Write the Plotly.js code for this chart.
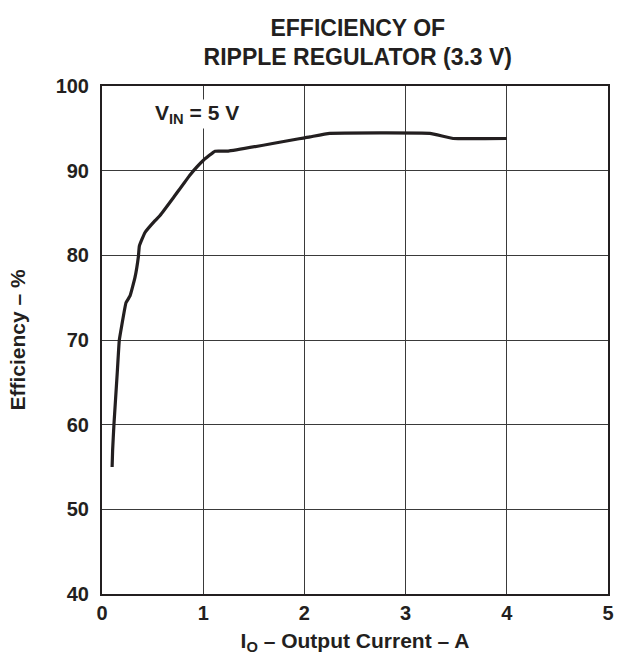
<!DOCTYPE html>
<html>
<head>
<meta charset="utf-8">
<script src="https://cdn.plot.ly/plotly-3.0.1.min.js"></script>
<style>html,body{margin:0;padding:0;background:#fff;}#chart{width:618px;height:658px;}</style>
</head>
<body>
<div id="chart"></div>
<script>
const currentA = [0.10, 0.105, 0.118, 0.15, 0.171, 0.195, 0.237, 0.277, 0.326, 0.36, 0.369, 0.425, 0.524, 0.573, 0.705, 0.87, 1.0, 1.117, 1.248, 2.055, 2.25, 3.24, 3.47, 4.0];
const efficiency = [55.0, 57.0, 60.0, 66.0, 70.0, 71.7, 74.4, 75.2, 77.4, 79.9, 81.1, 82.7, 84.1, 84.7, 86.8, 89.5, 91.2, 92.3, 92.3, 94.0, 94.4, 94.4, 93.8, 93.8];
const xTicks = [0, 1, 2, 3, 4, 5];
const yTicks = [40, 50, 60, 70, 80, 90, 100];
const annotationText = 'V<sub>IN</sub> = 5 V';

const fontFam = 'Liberation Sans, Arial, sans-serif';
const ink = '#231f20';
const trace = {
  x: currentA, y: efficiency, type: 'scatter', mode: 'lines',
  line: {color: ink, width: 3.2, shape: 'spline', smoothing: 0.3},
  hoverinfo: 'none', showlegend: false
};
const axisCommon = {
  showgrid: true, gridcolor: '#3a3a3a', gridwidth: 1,
  showline: true, linecolor: ink, linewidth: 2, mirror: true,
  zeroline: false, ticks: '',
  tickfont: {family: fontFam, size: 20, color: ink}
};
const layout = {
  width: 618, height: 658,
  margin: {l: 102, r: 10, t: 86, b: 64},
  paper_bgcolor: '#fff', plot_bgcolor: '#fff',
  font: {family: fontFam, color: ink},
  title: {
    text: '<b>EFFICIENCY OF<br>RIPPLE REGULATOR (3.3 V)</b>',
    x: 0.579, xanchor: 'center', y: 0.946, yanchor: 'top',
    font: {family: fontFam, size: 23, color: ink}
  },
  xaxis: Object.assign({}, axisCommon, {
    range: [0, 5], tickvals: xTicks, ticktext: xTicks.map(v => '<b>' + v + '</b>'),
    ticklabelstandoff: 0,
    title: {text: '<b>I<sub>O</sub> – Output Current – A</b>', font: {family: fontFam, size: 21, color: ink}, standoff: 10}
  }),
  yaxis: Object.assign({}, axisCommon, {
    range: [40, 100], tickvals: yTicks, ticktext: yTicks.map(v => '<b>' + v + '</b>'),
    ticklabelstandoff: 7,
    title: {text: '<b>Efficiency – %</b>', font: {family: fontFam, size: 21, color: ink}, standoff: 24}
  }),
  annotations: [{
    x: 0.94, y: 96.7, xref: 'x', yref: 'y', text: '<b>' + annotationText + '</b>',
    showarrow: false, font: {family: fontFam, size: 21, color: ink}, bgcolor: '#fff'
  }]
};
Plotly.newPlot('chart', [trace], layout, {displayModeBar: false, staticPlot: true});
</script>
</body>
</html>
